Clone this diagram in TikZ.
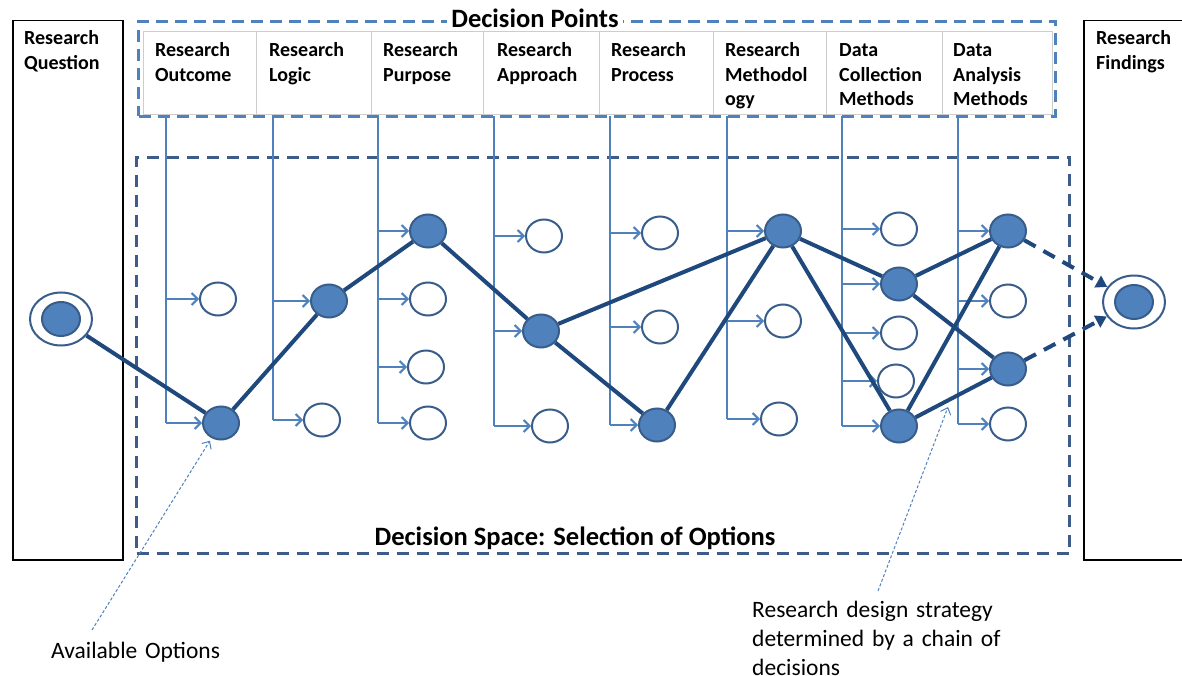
\documentclass[tikz,border=0pt]{standalone}
\usepackage{fontspec}
\setmainfont{Carlito}
\usetikzlibrary{arrows.meta,shapes.geometric}

\definecolor{optblue}{RGB}{79,129,189}
\definecolor{optedge}{RGB}{56,93,138}
\definecolor{chainblue}{RGB}{31,73,125}
\definecolor{spaceblue}{RGB}{62,92,138}
\definecolor{cellgray}{RGB}{205,205,205}

\tikzset{
  endbox/.style={draw=black, line width=1.5pt, anchor=north west, minimum height=539pt, inner sep=0pt},
  sidelabel/.style={font=\bfseries\fontsize{20}{25}\selectfont, anchor=base west, align=left, text width=100pt, inner sep=0pt},
  hcell/.style={draw=cellgray, line width=1pt, anchor=north west, minimum height=83pt, inner sep=0pt},
  colhead/.style={font=\bfseries\fontsize{20}{24.3}\selectfont, anchor=base west, align=left, text width=105pt, inner sep=0pt},
  hdrframe/.style={draw=optblue, line width=3pt, dash pattern=on 12pt off 7pt, anchor=north west, inner sep=0pt},
  spaceframe/.style={draw=spaceblue, line width=3pt, dash pattern=on 12pt off 8pt, anchor=north west, inner sep=0pt},
  bigtitle/.style={font=\bfseries\fontsize{26.5}{30}\selectfont, anchor=base, inner sep=0pt},
  note/.style={font=\fontsize{23.5}{29}\selectfont, anchor=base west, align=left, text width=300pt, inner sep=0pt},
  optnode/.style={ellipse, draw=optedge, line width=2pt, fill=white, minimum width=36pt, minimum height=33pt, inner sep=0pt},
  picknode/.style={optnode, fill=optblue},
  ringnode/.style={ellipse, draw=optedge, line width=2pt, fill=white, minimum width=62pt, minimum height=53pt, inner sep=0pt},
  corenode/.style={picknode, minimum width=38pt, minimum height=34pt},
  stem/.style={draw=optblue, line width=2pt},
  branch/.style={draw=optblue, line width=2pt, -{Straight Barb[length=6pt,width=12pt]}},
  chain/.style={draw=chainblue, line width=4pt},
  tochoice/.style={draw=chainblue, line width=4pt, dash pattern=on 13pt off 9pt, -{Triangle[length=11pt,width=13pt]}},
  pointer/.style={draw=optblue, line width=1pt, dash pattern=on 3pt off 2pt, -{Straight Barb[length=6pt,width=11pt]}}
}

\begin{document}
\begin{tikzpicture}[x=1pt,y=-1pt]
\useasboundingbox (0,0) rectangle (1182,676);

% question and findings panels
\node[endbox, minimum width=110pt] (qbox) at (12,20) {};
\node[sidelabel] (qtext) at (24,45) {Research\\Question};
\node[endbox, minimum width=130pt] (fbox) at (1083,20) {};
\node[sidelabel] (ftext) at (1096,45) {Research\\Findings};

% decision space
\node[spaceframe, minimum width=933pt, minimum height=396pt] (space) at (135,156) {};
\node[bigtitle] (spacetext) at (575,545) {Decision Space: Selection of Options};

% decision point table
\node[hcell, minimum width=113pt] (cell1) at (143,31) {};
\node[hcell, minimum width=115pt] (cell2) at (256,31) {};
\node[hcell, minimum width=112pt] (cell3) at (371,31) {};
\node[hcell, minimum width=116pt] (cell4) at (483,31) {};
\node[hcell, minimum width=114pt] (cell5) at (599,31) {};
\node[hcell, minimum width=113pt] (cell6) at (713,31) {};
\node[hcell, minimum width=116pt] (cell7) at (826,31) {};
\node[hcell, minimum width=110pt] (cell8) at (942,31) {};

\node[colhead] (h1) at (155,57) {Research\\Outcome};
\node[colhead] (h2) at (269,57) {Research\\Logic};
\node[colhead] (h3) at (383,57) {Research\\Purpose};
\node[colhead] (h4) at (497,57) {Research\\Approach};
\node[colhead] (h5) at (611,57) {Research\\Process};
\node[colhead] (h6) at (725,57) {Research\\Methodol\\ogy};
\node[colhead] (h7) at (839,57) {Data\\Collection\\Methods};
\node[colhead] (h8) at (953,57) {Data\\Analysis\\Methods};

\node[hdrframe, minimum width=917pt, minimum height=95pt] (points) at (137,20) {};
\node[bigtitle, fill=white, inner xsep=4pt, inner ysep=1pt] (pointstext) at (535,28) {Decision Points};

% option nodes, column by column
\node[optnode]  (n11) at (218,299) {};
\node[picknode] (n12) at (221,423) {};

\node[picknode] (n21) at (329,301) {};
\node[optnode]  (n22) at (322,420) {};

\node[picknode] (n31) at (428,231) {};
\node[optnode]  (n32) at (428,299) {};
\node[optnode]  (n33) at (426,367) {};
\node[optnode]  (n34) at (428,423) {};

\node[optnode]  (n41) at (544,236) {};
\node[picknode] (n42) at (541,331) {};
\node[optnode]  (n43) at (550,426) {};

\node[optnode]  (n51) at (660,233) {};
\node[optnode]  (n52) at (660,327) {};
\node[picknode] (n53) at (657,425) {};

\node[picknode] (n61) at (783,231) {};
\node[optnode]  (n62) at (783,321) {};
\node[optnode]  (n63) at (779,419) {};

\node[optnode]  (n71) at (899,229) {};
\node[picknode] (n72) at (899,284) {};
\node[optnode]  (n73) at (899,333) {};
\node[optnode]  (n74) at (896,381) {};
\node[picknode] (n75) at (899,426) {};

\node[picknode] (n81) at (1008,231) {};
\node[optnode]  (n82) at (1008,301) {};
\node[picknode] (n83) at (1008,369) {};
\node[optnode]  (n84) at (1008,424) {};

% start and end states
\node[ringnode] (start) at (61,319) {};
\node[corenode] (startcore) at (61,319) {};
\node[ringnode] (finish) at (1134,302) {};
\node[corenode] (finishcore) at (1134,302) {};

% stems hanging from each decision point
\coordinate (c1) at (166,116);
\coordinate (c2) at (273,116);
\coordinate (c3) at (378,116);
\coordinate (c4) at (494,116);
\coordinate (c5) at (610,116);
\coordinate (c6) at (727,116);
\coordinate (c7) at (842,116);
\coordinate (c8) at (958,116);

\draw[stem] (c1) -- (c1 |- n12);
\draw[stem] (c2) -- (c2 |- n22);
\draw[stem] (c3) -- (c3 |- n34);
\draw[stem] (c4) -- (c4 |- n43);
\draw[stem] (c5) -- (c5 |- n53);
\draw[stem] (c6) -- (c6 |- n63);
\draw[stem] (c7) -- (c7 |- n75);
\draw[stem] (c8) -- (c8 |- n84);

\foreach \c/\n in {c1/n11,c1/n12,c2/n21,c2/n22,c3/n31,c3/n32,c3/n33,c3/n34,
                   c4/n41,c4/n42,c4/n43,c5/n51,c5/n52,c5/n53,c6/n61,c6/n62,c6/n63,
                   c7/n71,c7/n72,c7/n73,c7/n74,c7/n75,c8/n81,c8/n82,c8/n83,c8/n84}
  \draw[branch] (\c |- \n) -- (\n);

% chain of decisions
\draw[chain] (start) -- (n12);
\draw[chain] (n12) -- (n21);
\draw[chain] (n21) -- (n31);
\draw[chain] (n31) -- (n42);
\draw[chain] (n42) -- (n61);
\draw[chain] (n42) -- (n53);
\draw[chain] (n53) -- (n61);
\draw[chain] (n61) -- (n72);
\draw[chain] (n61) -- (n75);
\draw[chain] (n72) -- (n81);
\draw[chain] (n72) -- (n83);
\draw[chain] (n75) -- (n81);
\draw[chain] (n75) -- (n83);
\draw[tochoice] (n81) -- (finish);
\draw[tochoice] (n83) -- (finish);

% callouts
\node[note] (availtext) at (51,658) {Available Options};
\node[note] (strattext) at (752,617) {Research design strategy\\determined by a chain of\\decisions};
\coordinate (availtail) at (92,630);
\coordinate (strattail) at (878,591);
\coordinate (strattip) at (948,407);
\draw[pointer, shorten >=3pt] (availtail) -- (n12);
\draw[pointer] (strattail) -- (strattip);
\end{tikzpicture}
\end{document}
